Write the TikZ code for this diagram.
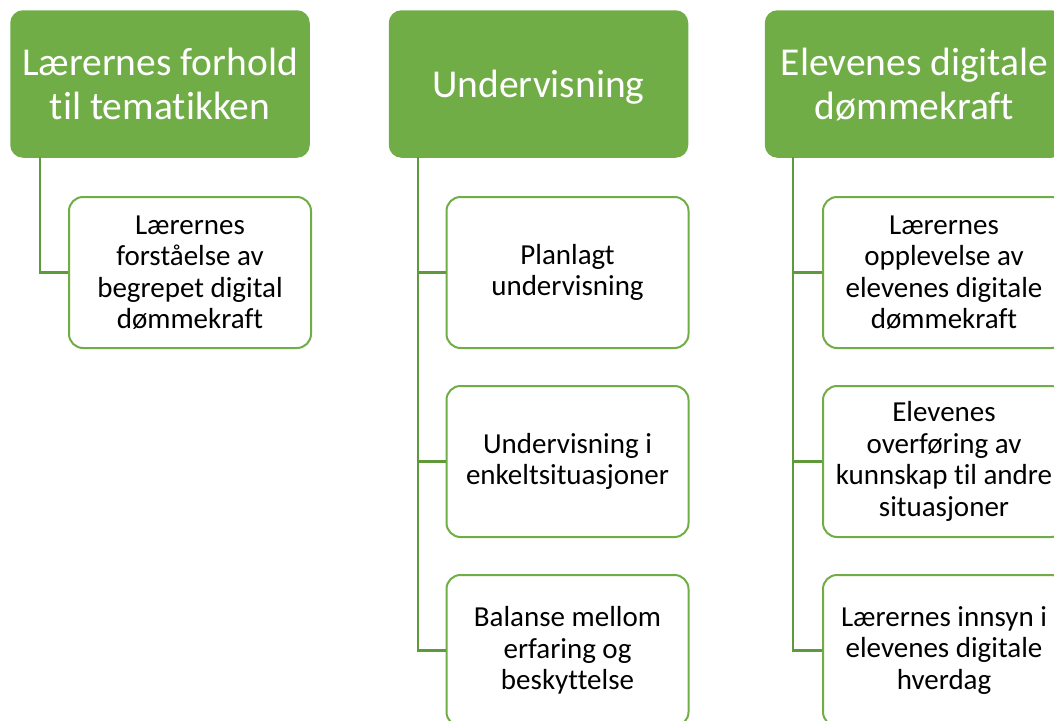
\documentclass[tikz,border=0pt]{standalone}
\usepackage{fontspec}
\setmainfont[Ligatures=NoCommon]{Carlito}
\definecolor{hgreen}{HTML}{70AD47}
\definecolor{lgreen}{HTML}{5E9A3A}
\begin{document}
\begin{tikzpicture}[x=1pt,y=-1pt,
  head/.style={draw=hgreen,fill=hgreen,line width=1.5pt,rounded corners=12pt,minimum width=298pt,minimum height=146pt,inner sep=0pt,text=white,align=center,font=\fontsize{39.5}{44}\selectfont},
  child/.style={draw=hgreen,fill=white,line width=2pt,rounded corners=14pt,minimum width=242pt,minimum height=151pt,inner sep=0pt,align=center,font=\fontsize{29}{31.5}\selectfont},
  conn/.style={draw=lgreen,line width=2.2pt}]
\useasboundingbox (0,0) rectangle (1054,720);
\node[head] (h1) at (160,84) {Lærernes forhold\\til tematikken};
\node[head] (h2) at (538.5,84) {\raisebox{-13pt}[0pt][0pt]{Undervisning}};
\node[head] (h3) at (914.5,84) {Elevenes digitale\\dømmekraft};
\node[child] (c11) at (190,272.5) {Lærernes\\forståelse av\\begrepet digital\\dømmekraft};
\node[child] (c21) at (567.5,272.5) {Planlagt\\undervisning};
\node[child] (c22) at (567.5,461.5) {Undervisning i\\enkeltsituasjoner};
\node[child] (c23) at (567.5,650.5) {Balanse mellom\\erfaring og\\beskyttelse};
\node[child] (c31) at (944,272.5) {Lærernes\\opplevelse av\\elevenes digitale\\dømmekraft};
\node[child] (c32) at (944,461.5) {Elevenes\\overføring av\\kunnskap til andre\\situasjoner};
\node[child] (c33) at (944,650.5) {Lærernes innsyn i\\elevenes digitale\\hverdag};
\coordinate (t1) at (40,157);
\coordinate (t2) at (418,157);
\coordinate (t3) at (793,157);
\draw[conn] (t1) |- (c11.west);
\draw[conn] (t2) |- (c21.west);
\draw[conn] (t2) |- (c22.west);
\draw[conn] (t2) |- (c23.west);
\draw[conn] (t3) |- (c31.west);
\draw[conn] (t3) |- (c32.west);
\draw[conn] (t3) |- (c33.west);
\end{tikzpicture}
\end{document}
